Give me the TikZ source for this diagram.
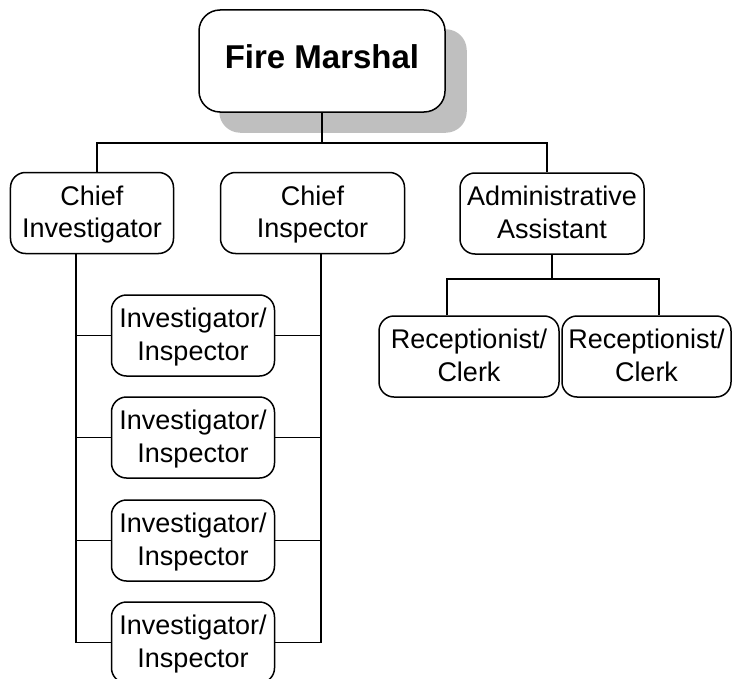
\documentclass[tikz,border=0pt]{standalone}
\usepackage{fontspec}
\setmainfont{Liberation Sans}
\usetikzlibrary{backgrounds}
\begin{document}
\begin{tikzpicture}[x=1bp,y=-1bp,
  box/.style={draw, fill=white, line width=1.5bp, rounded corners=15bp, inner sep=0pt, align=center,
    font=\fontsize{27bp}{32.5bp}\selectfont, text height=54.5bp, text depth=5.5bp, minimum height=81bp},
  topbox/.style={draw, fill=white, line width=1.5bp, rounded corners=21bp, inner sep=0pt,
    font=\bfseries\fontsize{33bp}{40bp}\selectfont, text height=24bp, text depth=8bp,
    minimum width=246bp, minimum height=102bp},
  shadowfill/.style={fill=black!25, rounded corners=21bp},
  wire/.style={line width=1.3bp}]
\useasboundingbox (0,0) rectangle (732,679);
\clip (0,0) rectangle (732,679);

\node[topbox] (fm) at (322,61) {Fire Marshal};
\begin{pgfonlayer}{background}
\fill[shadowfill] ([shift={(21,20)}]fm.south west) rectangle ([shift={(21,20)}]fm.north east);
\end{pgfonlayer}

\node[box, minimum width=163bp] (ci) at (92,213) {Chief\\Investigator};
\node[box, minimum width=184bp] (cis) at (312.5,213) {Chief\\Inspector};
\node[box, minimum width=184bp] (aa) at (552,213.5) {Administrative\\Assistant};
\node[box, minimum width=180bp] (r1) at (469,356.5) {Receptionist/\\Clerk};
\node[box, minimum width=169bp] (r2) at (646.5,356.5) {Receptionist/\\Clerk};
\node[box, minimum width=163bp] (ii1) at (193,335.5) {Investigator/\\Inspector};
\node[box, minimum width=163bp] (ii2) at (193,437.5) {Investigator/\\Inspector};
\node[box, minimum width=163bp] (ii3) at (193,540.5) {Investigator/\\Inspector};
\node[box, minimum width=163bp] (ii4) at (193,642.5) {Investigator/\\Inspector};

\coordinate (b1) at (97,143);
\coordinate (b2) at (547,143);
\coordinate (c1) at (447,279);
\coordinate (c2) at (659,279);
\coordinate (lv) at (76,0);
\coordinate (rv) at (321,0);

\draw[wire] (fm.south) -- (fm.south |- b1);
\draw[wire] (b1 |- ci.north) -- (b1) -- (b2) -- (b2 |- aa.north);
\draw[wire] (aa.south) -- (aa.south |- c1);
\draw[wire] (c1 |- r1.north) -- (c1) -- (c2) -- (c2 |- r2.north);

\draw[wire] (lv |- ci.south) -- (lv |- ii4.west) -- (ii4.west);
\draw[wire] (rv |- cis.south) -- (rv |- ii4.east) -- (ii4.east);
\draw[wire] (lv |- ii1.west) -- (ii1.west);
\draw[wire] (lv |- ii2.west) -- (ii2.west);
\draw[wire] (lv |- ii3.west) -- (ii3.west);
\draw[wire] (ii1.east) -- (rv |- ii1.east);
\draw[wire] (ii2.east) -- (rv |- ii2.east);
\draw[wire] (ii3.east) -- (rv |- ii3.east);
\end{tikzpicture}
\end{document}
